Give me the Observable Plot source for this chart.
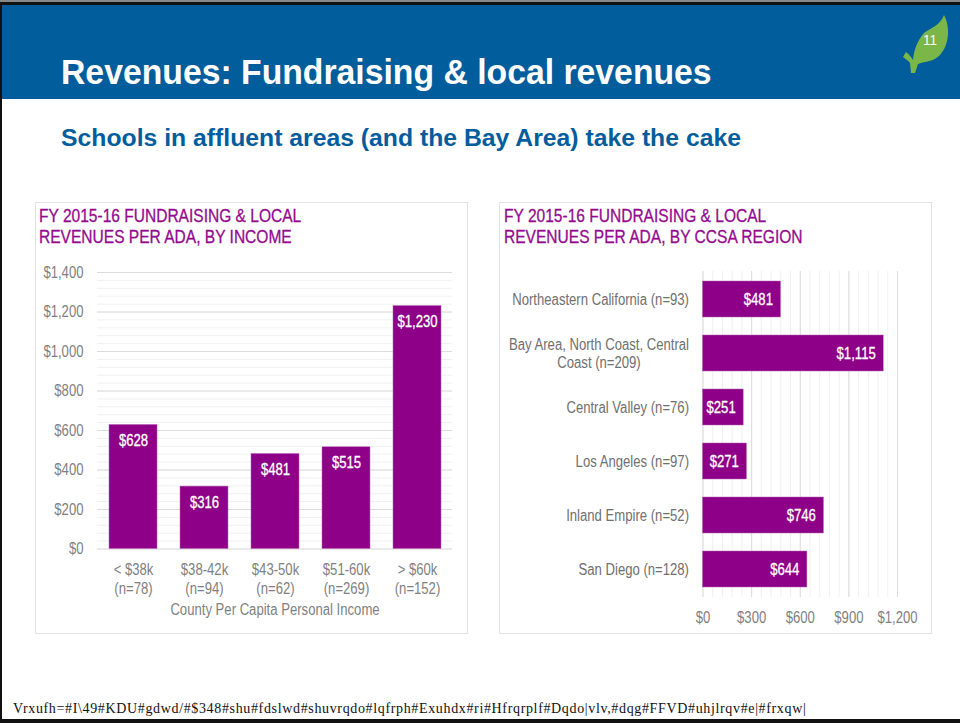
<!DOCTYPE html>
<html><head><meta charset="utf-8">
<script src="https://cdn.jsdelivr.net/npm/d3@7"></script>
<script src="https://cdn.jsdelivr.net/npm/@observablehq/plot@0.6"></script>
<style>
html,body{margin:0;padding:0;background:#fff;}
#slide{position:relative;width:960px;height:723px;overflow:hidden;background:#fff;}
#slide>*{position:absolute;}
.abs{white-space:nowrap;transform-origin:0 0;}
#band{left:0;top:4px;width:960px;height:95px;background:#025d9c;}
#borderTop{left:0;top:0;width:960px;height:2px;background:#888;}
#borderTop2{left:0;top:2px;width:960px;height:3px;background:#111;}
#borderLeft{left:0;top:2px;width:2px;height:721px;background:#111;}
#borderBottom{left:0;top:719px;width:960px;height:4px;background:#111;}
#title{left:61px;top:50px;font:bold 35px/44px "Liberation Sans",sans-serif;color:#fff;transform:scaleX(.964);}
#sub{left:61px;top:122px;font:bold 24.75px/32px "Liberation Sans",sans-serif;color:#025d9c;}
.frame{box-sizing:border-box;border:1px solid #e2e2e2;background:#fff;}
.ctitle{font:18.5px/21px "Liberation Sans",sans-serif;color:#930a8f;-webkit-text-stroke:0.3px #930a8f;transform:scaleX(.84);}
#foot{left:13px;top:700px;font:14px/18px "Liberation Serif",serif;color:#111;letter-spacing:.65px;}
#pg{left:923px;top:32px;font:15px/16px "Liberation Sans",sans-serif;color:#fff;transform:scaleX(.9);}
</style></head><body>
<div id="slide">
<div id="band"></div><div id="borderTop"></div><div id="borderTop2"></div><div id="borderLeft"></div><div id="borderBottom"></div>
<div id="title" class="abs">Revenues: Fundraising &amp; local revenues</div>
<div id="sub" class="abs">Schools in affluent areas (and the Bay Area) take the cake</div>
<svg style="left:900px;top:14px" width="50" height="62" viewBox="0 0 50 62"><path d="M44 1C50 12 50 30 40 41C33 48 26 47 18 50L15 59H11L10 49C8 46 5 45 3 43L6 38C9 40 11 43 13 46C14 36 17 27 24 19C30 14 40 12 44 1Z" fill="#7ab648"/></svg>
<div id="pg" class="abs">11</div>
<div class="frame" style="left:35px;top:202px;width:433px;height:432px"></div>
<div class="frame" style="left:499px;top:202px;width:433px;height:432px"></div>
<div class="ctitle abs" style="left:39px;top:205px">FY 2015-16 FUNDRAISING &amp; LOCAL<br>REVENUES PER ADA, BY INCOME</div>
<div class="ctitle abs" style="left:503.5px;top:205px">FY 2015-16 FUNDRAISING &amp; LOCAL<br>REVENUES PER ADA, BY CCSA REGION</div>
<div id="c1" style="left:35px;top:252px"></div>
<div id="c2" style="left:499px;top:252px"></div>
<div id="foot" class="abs">Vrxufh=#I\49#KDU#gdwd/#$348#shu#fdslwd#shuvrqdo#lqfrph#Exuhdx#ri#Hfrqrplf#Dqdo|vlv,#dqg#FFVD#uhjlrqv#e|#frxqw|</div>
</div>
<script>
const incomeCats = ["< $38k\n(n=78)","$38-42k\n(n=94)","$43-50k\n(n=62)","$51-60k\n(n=269)","> $60k\n(n=152)"];
const incomeVals = [628,316,481,515,1230];
const regionCats = ["Northeastern California (n=93)","Bay Area, North Coast, Central\nCoast (n=209)","Central Valley (n=76)","Los Angeles (n=97)","Inland Empire (n=52)","San Diego (n=128)"];
const regionVals = [481,1115,251,271,746,644];
const yTicks = [0,200,400,600,800,1000,1200,1400];
const yMinor = d3.range(0,1401,40);
const xTicks = [0,300,600,900,1200];
const xMinor = d3.range(0,1201,60);
const usd = d3.format("$,");
const PURPLE = "#8e0088";
const GREY = "#7f7f7f";
const FONT = '"Liberation Sans",sans-serif';
const FS = 16;
const incomeRows = incomeCats.map((c,i)=>({c,v:incomeVals[i]}));
const regionRows = regionCats.map((c,i)=>({c,v:regionVals[i]}));
const wrapped = regionCats.filter(c=>c.includes("\n"));

// The reference uses a narrow face: squeeze every text about its own anchor.
function narrow(svg){
  svg.querySelectorAll("text").forEach(t=>{
    t.setAttribute("transform",(t.getAttribute("transform")||"")+" scale(.82,1)");
  });
  return svg;
}

document.getElementById("c1").append(narrow(Plot.plot({
  width:433,height:382,
  marginLeft:62,marginRight:16,marginTop:20,marginBottom:85.5,
  style:{fontFamily:FONT,fontSize:FS+"px",color:GREY,background:"transparent",overflow:"visible"},
  x:{domain:incomeCats,paddingInner:.324,paddingOuter:.162,label:null},
  y:{domain:[0,1400],label:null},
  marks:[
    Plot.ruleY(yMinor,{y:d=>d,stroke:"#f0f0f0",strokeWidth:1}),
    Plot.ruleY(yTicks,{y:d=>d,stroke:"#dcdcdc",strokeWidth:1}),
    Plot.barY(incomeRows,{x:"c",y:"v",fill:PURPLE,stroke:"#b564b1",strokeWidth:0.5}),
    Plot.text(incomeRows,{x:"c",y:"v",text:d=>usd(d.v),fill:"#fff",stroke:"#fff",strokeWidth:.3,dy:16,fontSize:FS}),
    Plot.axisY({ticks:yTicks,tickFormat:usd,tickSize:0,tickPadding:14,label:null,fill:GREY,fontSize:FS}),
    Plot.axisX({tickSize:0,tickPadding:12,lineHeight:1.22,label:null,fill:GREY,fontSize:FS}),
    Plot.text(["County Per Capita Personal Income"],{frameAnchor:"bottom",dy:66,fill:GREY,fontSize:FS})
  ]
})));

document.getElementById("c2").append(narrow(Plot.plot({
  width:433,height:382,
  marginLeft:203.5,marginRight:35,marginTop:19,marginBottom:37,
  style:{fontFamily:FONT,fontSize:FS+"px",color:GREY,background:"transparent",overflow:"visible"},
  x:{domain:[0,1200],label:null},
  y:{domain:regionCats,paddingInner:.337,paddingOuter:.168,label:null},
  marks:[
    Plot.ruleX(xMinor,{x:d=>d,stroke:"#f0f0f0",strokeWidth:1}),
    Plot.ruleX(xTicks,{x:d=>d,stroke:"#dcdcdc",strokeWidth:1}),
    Plot.barX(regionRows,{y:"c",x:"v",fill:PURPLE,stroke:"#b564b1",strokeWidth:0.5}),
    Plot.text(regionRows,{y:"c",x:"v",text:d=>usd(d.v),fill:"#fff",stroke:"#fff",strokeWidth:.3,textAnchor:"end",dx:-8,fontSize:FS}),
    Plot.axisX({ticks:xTicks,tickFormat:usd,tickSize:0,tickPadding:14,label:null,fill:GREY,fontSize:FS}),
    Plot.axisY({tickSize:0,tickPadding:14,label:null,tickFormat:c=>c.includes("\n")?"":c,fill:"#707070",fontSize:FS}),
    Plot.text(wrapped,{y:d=>d,frameAnchor:"left",textAnchor:"middle",dx:-104,lineHeight:1.1,fill:"#707070",fontSize:FS})
  ]
})));
</script>
</body></html>
